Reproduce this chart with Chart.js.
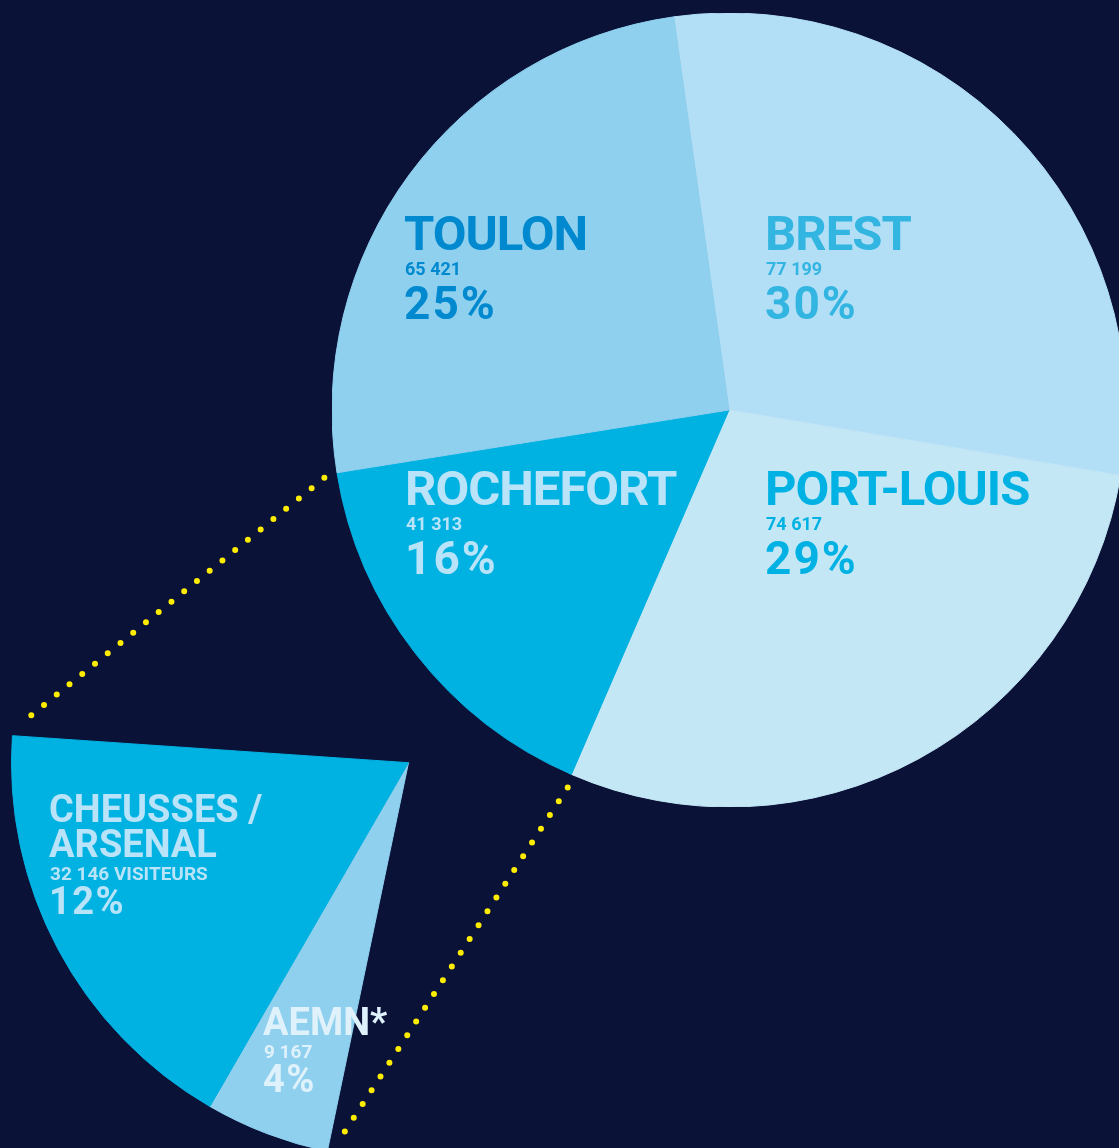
<!DOCTYPE html>
<html>
<head>
<meta charset="utf-8">
<script src="https://cdn.jsdelivr.net/npm/chart.js@4.4.1/dist/chart.umd.min.js"></script>
<style>
html,body{margin:0;padding:0;width:1119px;height:1148px;overflow:hidden;background:#0b1238;}
canvas{position:absolute;display:block;}
#big{left:332px;top:13px;}
#sub{left:11px;top:735px;}
#lines{left:0;top:0;pointer-events:none;}
.lbl{position:absolute;font-family:Roboto,"DejaVu Sans",sans-serif;font-weight:700;white-space:nowrap;line-height:1;}
</style>
</head>
<body>
<canvas id="big" width="794" height="794"></canvas>
<canvas id="sub" width="398" height="417"></canvas>
<canvas id="lines" width="1119" height="1148"></canvas>
<div id="labels"></div>
<script>
// ---- data ----
const categories = ['BREST', 'PORT-LOUIS', 'ROCHEFORT', 'TOULON'];
const visitors = [77199, 74617, 41313, 65421];
const subCategories = ['AEMN*', 'CHEUSSES /\nARSENAL'];
const subVisitors = [9167, 32146];
const subSuffix = ['', ' VISITEURS'];

// ---- styles ----
const bigColors = ['#b2dff6', '#c4e7f6', '#00b2e2', '#8fd0ef'];
const bigTextColors = ['#33b5e1', '#00b2e3', '#b9e3f8', '#0089cf'];
const subColors = ['#8fd0ef', '#00b2e2'];
const subTextColors = ['#dff1fb', '#b9e3f8'];
const bigLabelPos = [[765, 215], [765, 470], [405, 470], [404, 215]];
const subLabelPos = [[263, 1008], [49, 795]];

const grandTotal = visitors.reduce((a, b) => a + b, 0);
const fmt = v => String(v).replace(/\B(?=(\d{3})+(?!\d))/g, ' ');
const pct = v => Math.round(v / grandTotal * 100) + '%';

const common = {
  responsive: false,
  animation: false,
  events: [],
  layout: { padding: 0 },
  plugins: { legend: { display: false }, tooltip: { enabled: false } }
};

const bigChart = new Chart(document.getElementById('big'), {
  type: 'pie',
  data: {
    labels: categories,
    datasets: [{
      data: visitors,
      backgroundColor: bigColors,
      borderColor: bigColors,
      borderWidth: 1,
      hoverOffset: 0,
      rotation: -8,
      radius: 397
    }]
  },
  options: Object.assign({ rotation: -8, radius: 397 }, common)
});

const subChart = new Chart(document.getElementById('sub'), {
  type: 'pie',
  data: {
    labels: subCategories,
    datasets: [{
      data: subVisitors,
      backgroundColor: subColors,
      borderColor: subColors,
      borderWidth: 1,
      hoverOffset: 0,
      rotation: 191.8,
      circumference: 82.1
    }]
  },
  options: Object.assign({ rotation: 191.8, circumference: 82.1 }, common)
});

// ---- connector dotted lines (from arc geometry) ----
function edgePoint(chart, idx, which) {
  const a = chart.getDatasetMeta(0).data[idx];
  const c = chart.canvas;
  const ang = which === 'start' ? a.startAngle : a.endAngle;
  return {
    x: c.offsetLeft + a.x + a.outerRadius * Math.cos(ang),
    y: c.offsetTop + a.y + a.outerRadius * Math.sin(ang)
  };
}
const rochIdx = categories.indexOf('ROCHEFORT');
const p1 = edgePoint(bigChart, rochIdx, 'end');
const q1 = edgePoint(subChart, subVisitors.length - 1, 'end');
const p2 = edgePoint(bigChart, rochIdx, 'start');
const q2 = edgePoint(subChart, 0, 'start');
const mid = { x: (p1.x + q1.x + p2.x + q2.x) / 4, y: (p1.y + q1.y + p2.y + q2.y) / 4 };

const lctx = document.getElementById('lines').getContext('2d');
function dotted(p, q) {
  const dx = q.x - p.x, dy = q.y - p.y, L = Math.hypot(dx, dy);
  const ux = dx / L, uy = dy / L;
  let nx = -uy, ny = ux;
  if (nx * (p.x - mid.x) + ny * (p.y - mid.y) < 0) { nx = -nx; ny = -ny; }
  const inset = 13, off = 4;
  lctx.save();
  lctx.strokeStyle = '#ffed00';
  lctx.lineWidth = 6;
  lctx.lineCap = 'round';
  lctx.setLineDash([0, 16.4]);
  lctx.beginPath();
  lctx.moveTo(p.x + ux * inset + nx * off, p.y + uy * inset + ny * off);
  lctx.lineTo(q.x - ux * inset + nx * off, q.y - uy * inset + ny * off);
  lctx.stroke();
  lctx.restore();
}
dotted(p1, q1);
dotted(p2, q2);

// ---- labels ----
const host = document.getElementById('labels');
function addText(text, left, capTop, size, color, spacing) {
  const d = document.createElement('div');
  d.className = 'lbl';
  d.textContent = text;
  d.style.left = left + 'px';
  d.style.top = (capTop - 0.131 * size) + 'px';
  d.style.fontSize = size + 'px';
  d.style.color = color;
  d.style.letterSpacing = (spacing || 0) + 'px';
  host.appendChild(d);
}
categories.forEach((name, i) => {
  const [x, y] = bigLabelPos[i];
  addText(name, x, y, 49, bigTextColors[i], -1);
  addText(fmt(visitors[i]), x + 1, y + 47, 18, bigTextColors[i], 0);
  addText(pct(visitors[i]), x, y + 71, 46, bigTextColors[i], 2);
});
subCategories.forEach((name, i) => {
  const [x, y] = subLabelPos[i];
  const lines = name.split('\n');
  lines.forEach((ln, k) => addText(ln, x, y + k * 35, 38, subTextColors[i], 0));
  const yy = y + (lines.length - 1) * 35;
  addText(fmt(subVisitors[i]) + subSuffix[i], x + 1, yy + 36, 19, subTextColors[i], 0);
  addText(pct(subVisitors[i]), x, yy + 57, 38, subTextColors[i], 1.5);
});
</script>
</body>
</html>
